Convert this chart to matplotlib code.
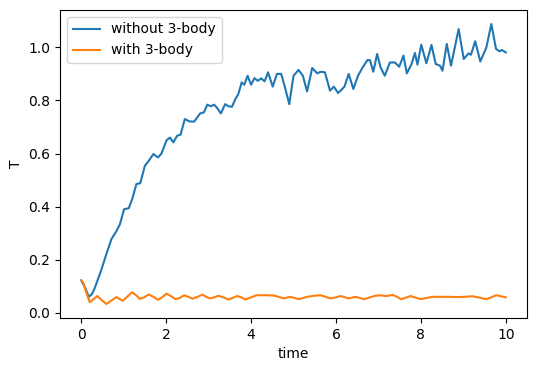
import matplotlib
matplotlib.use("Agg")
import matplotlib.pyplot as plt

# blue series: without 3-body
t_without = [0.00, 0.09, 0.18, 0.25, 0.32, 0.47, 0.59, 0.71, 0.83, 0.91, 1.01, 1.12, 1.20, 1.30, 1.39,
             1.50, 1.58, 1.70, 1.81, 1.89, 2.01, 2.09, 2.17, 2.26, 2.34, 2.44, 2.55, 2.66, 2.80, 2.89,
             2.97, 3.05, 3.13, 3.19, 3.29, 3.39, 3.47, 3.55, 3.63, 3.70, 3.78, 3.84, 3.92, 4.00, 4.08,
             4.16, 4.24, 4.32, 4.40, 4.51, 4.61, 4.71, 4.79, 4.90, 5.00, 5.12, 5.22, 5.32, 5.44, 5.56,
             5.64, 5.74, 5.86, 5.95, 6.05, 6.11, 6.20, 6.30, 6.41, 6.52, 6.62, 6.74, 6.80, 6.88, 6.97,
             7.05, 7.15, 7.27, 7.39, 7.49, 7.59, 7.67, 7.78, 7.86, 7.92, 8.01, 8.13, 8.25, 8.35, 8.45,
             8.51, 8.61, 8.71, 8.89, 9.01, 9.12, 9.18, 9.28, 9.40, 9.54, 9.66, 9.77, 9.85, 9.91, 10.00]
T_without = [0.122, 0.095, 0.060, 0.070, 0.094, 0.160, 0.220, 0.277, 0.308, 0.333, 0.390, 0.394, 0.428, 0.485, 0.488,
             0.554, 0.570, 0.598, 0.585, 0.600, 0.650, 0.660, 0.642, 0.667, 0.671, 0.730, 0.721, 0.720, 0.751, 0.755,
             0.784, 0.778, 0.784, 0.774, 0.751, 0.786, 0.778, 0.776, 0.805, 0.824, 0.868, 0.859, 0.893, 0.859, 0.884,
             0.874, 0.883, 0.872, 0.906, 0.852, 0.900, 0.900, 0.855, 0.786, 0.893, 0.915, 0.893, 0.834, 0.922, 0.902,
             0.908, 0.906, 0.837, 0.852, 0.828, 0.837, 0.852, 0.900, 0.843, 0.893, 0.922, 0.952, 0.952, 0.908, 0.975,
             0.925, 0.893, 0.943, 0.943, 0.927, 0.969, 0.902, 0.937, 0.979, 0.935, 1.010, 0.940, 1.009, 0.937, 0.931,
             0.912, 1.013, 0.931, 1.069, 0.956, 0.977, 0.972, 1.023, 0.947, 0.998, 1.088, 0.994, 0.985, 0.990, 0.981]

# orange series: with 3-body
t_with = [0.00, 0.05, 0.10, 0.20, 0.28, 0.38, 0.48, 0.59, 0.70, 0.83, 0.98, 1.08, 1.20, 1.30, 1.38,
          1.48, 1.59, 1.70, 1.81, 1.90, 2.01, 2.12, 2.22, 2.32, 2.43, 2.52, 2.62, 2.74, 2.85, 2.95,
          3.03, 3.13, 3.23, 3.35, 3.47, 3.57, 3.67, 3.77, 3.87, 4.00, 4.13, 4.33, 4.53, 4.65, 4.77,
          4.92, 5.02, 5.12, 5.32, 5.48, 5.64, 5.76, 5.87, 6.00, 6.11, 6.20, 6.30, 6.46, 6.56, 6.66,
          6.78, 6.90, 7.02, 7.18, 7.34, 7.44, 7.53, 7.65, 7.76, 7.88, 8.00, 8.14, 8.27, 8.67, 8.91,
          9.22, 9.38, 9.54, 9.66, 9.77, 9.87, 10.00]
T_with = [0.122, 0.112, 0.085, 0.040, 0.050, 0.063, 0.048, 0.033, 0.045, 0.059, 0.045, 0.060, 0.077, 0.065, 0.052,
          0.058, 0.069, 0.060, 0.049, 0.058, 0.072, 0.062, 0.051, 0.056, 0.066, 0.060, 0.053, 0.060, 0.068, 0.060,
          0.054, 0.058, 0.064, 0.058, 0.050, 0.056, 0.063, 0.058, 0.050, 0.058, 0.066, 0.066, 0.065, 0.060, 0.054,
          0.060, 0.056, 0.051, 0.060, 0.064, 0.066, 0.060, 0.054, 0.058, 0.063, 0.059, 0.054, 0.060, 0.056, 0.051,
          0.057, 0.063, 0.066, 0.063, 0.067, 0.060, 0.051, 0.057, 0.063, 0.057, 0.051, 0.056, 0.060, 0.060, 0.059,
          0.062, 0.057, 0.051, 0.058, 0.066, 0.063, 0.058]

fig = plt.figure(figsize=(5.36, 3.71), dpi=100)
ax = fig.add_axes([60 / 536, 53 / 371, 467 / 536, 308 / 371])
ax.plot(t_without, T_without, label="without 3-body")
ax.plot(t_with, T_with, label="with 3-body")
ax.set_xlabel("time")
ax.set_ylabel("T")
ax.legend(loc="upper left")
fig.savefig("out.png", dpi=100)
